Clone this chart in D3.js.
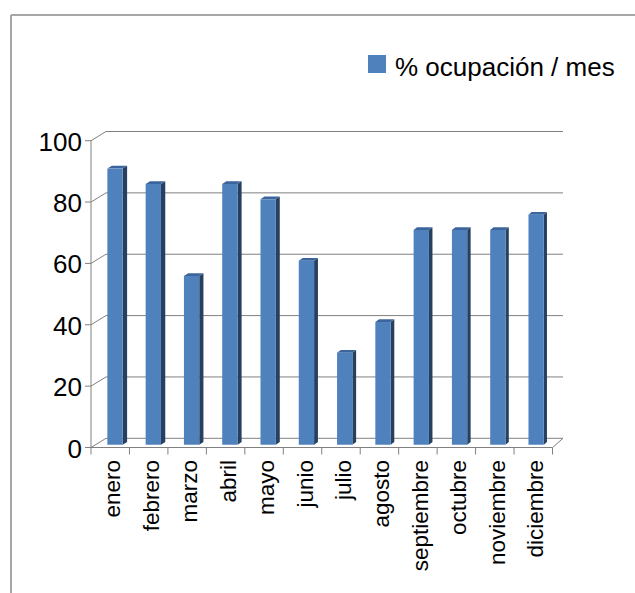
<!DOCTYPE html>
<html>
<head>
<meta charset="utf-8">
<script src="https://cdn.jsdelivr.net/npm/d3@7"></script>
<style>
  html, body { margin: 0; padding: 0; background: #fff; }
  svg { display: block; font-family: "Liberation Sans", Arial, sans-serif; }
</style>
</head>
<body>
<svg id="chart" width="635" height="593"></svg>
<script>
const months = ["enero","febrero","marzo","abril","mayo","junio","julio","agosto","septiembre","octubre","noviembre","diciembre"];
const ocupacion = [90, 85, 55, 85, 80, 60, 30, 40, 70, 70, 70, 75];
const yTicks = [0, 20, 40, 60, 80, 100];
const seriesName = "% ocupación / mes";

const svg = d3.select("#chart");

// chart area border (only top and left visible)
svg.append("line").attr("x1", 11).attr("y1", 15).attr("x2", 640).attr("y2", 15)
  .attr("stroke", "#a6a6a6").attr("stroke-width", 2);
svg.append("line").attr("x1", 11).attr("y1", 15).attr("x2", 11).attr("y2", 600)
  .attr("stroke", "#a6a6a6").attr("stroke-width", 2);

// 3D projection parameters
const front = { x0: 91, x1: 552.5 };
const back = { x0: 106, x1: 563 };
const depthDY = -9.2;
const yFront = d3.scaleLinear().domain([0, 100]).range([447.5, 140.7]);
const band = d3.scaleBand().domain(months).range([0, 1]).paddingInner(0.6).paddingOuter(0.31);
const cat = d3.scaleBand().domain(months).range([0, 1]).padding(0);

function P(f, v, d) {
  const xf = front.x0 + f * (front.x1 - front.x0);
  const xb = back.x0 + f * (back.x1 - back.x0);
  return [xf + (xb - xf) * d, yFront(v) + depthDY * d];
}

const gridColor = "#808080";
const g = svg.append("g");

// back wall gridlines + left wall diagonals
yTicks.forEach(t => {
  const a = P(0, t, 1), b = P(1, t, 1), c = P(0, t, 0);
  g.append("line").attr("x1", a[0]).attr("y1", a[1]).attr("x2", b[0]).attr("y2", b[1])
    .attr("stroke", gridColor).attr("stroke-width", 1);
  g.append("line").attr("x1", c[0]).attr("y1", c[1]).attr("x2", a[0]).attr("y2", a[1])
    .attr("stroke", gridColor).attr("stroke-width", 1);
  g.append("line").attr("x1", c[0] - 6).attr("y1", c[1]).attr("x2", c[0]).attr("y2", c[1])
    .attr("stroke", gridColor).attr("stroke-width", 1);
  g.append("text").attr("x", 82).attr("y", c[1] + 10)
    .attr("text-anchor", "end").attr("font-size", 26).attr("fill", "#000").text(t);
});

// floor edges and y axis
{
  const fl = P(0, 0, 0), fr = P(1, 0, 0), br = P(1, 0, 1);
  g.append("line").attr("x1", fl[0]).attr("y1", fl[1]).attr("x2", fr[0]).attr("y2", fr[1])
    .attr("stroke", gridColor).attr("stroke-width", 1);
  g.append("line").attr("x1", fr[0]).attr("y1", fr[1]).attr("x2", br[0]).attr("y2", br[1])
    .attr("stroke", gridColor).attr("stroke-width", 1);
  const top = P(0, 100, 0);
  g.append("line").attr("x1", fl[0]).attr("y1", fl[1]).attr("x2", top[0]).attr("y2", top[1])
    .attr("stroke", gridColor).attr("stroke-width", 1);
}

// category ticks
d3.range(months.length + 1).forEach(i => {
  const p = P(i / months.length, 0, 0);
  g.append("line").attr("x1", p[0]).attr("y1", p[1]).attr("x2", p[0]).attr("y2", p[1] + 7)
    .attr("stroke", gridColor).attr("stroke-width", 1);
});

// bars
const d0 = 0.3, d1 = 0.6;
const colFront = "#4F81BD", colSide = "#27405F", colTop = "#3B659C";
months.forEach((m, i) => {
  const v = ocupacion[i];
  const f0 = band(m), f1 = band(m) + band.bandwidth();
  const a = P(f0, v, d0), b = P(f1, v, d0), base = P(f0, 0, d0), baseR = P(f1, 0, d0);
  const bt = P(f1, v, d1), bb = P(f1, 0, d1), at = P(f0, v, d1);
  const poly = pts => pts.map(p => p.join(",")).join(" ");
  g.append("polygon").attr("points", poly([b, bt, bb, baseR])).attr("fill", colSide);
  g.append("polygon").attr("points", poly([a, b, bt, at])).attr("fill", colTop);
  g.append("rect").attr("x", a[0]).attr("y", a[1]).attr("width", b[0] - a[0]).attr("height", base[1] - a[1])
    .attr("fill", colFront);
});

// x labels
months.forEach(m => {
  const p = P(cat(m) + cat.bandwidth() / 2, 0, 0);
  g.append("text")
    .attr("transform", `translate(${p[0] + 10},460) rotate(-90)`)
    .attr("text-anchor", "end").attr("font-size", 22.5).attr("fill", "#000").text(m);
});

// legend
svg.append("rect").attr("x", 368).attr("y", 55).attr("width", 18).attr("height", 18).attr("fill", colFront);
svg.append("text").attr("x", 395).attr("y", 76).attr("font-size", 26).attr("fill", "#000").text(seriesName);
</script>
</body>
</html>
